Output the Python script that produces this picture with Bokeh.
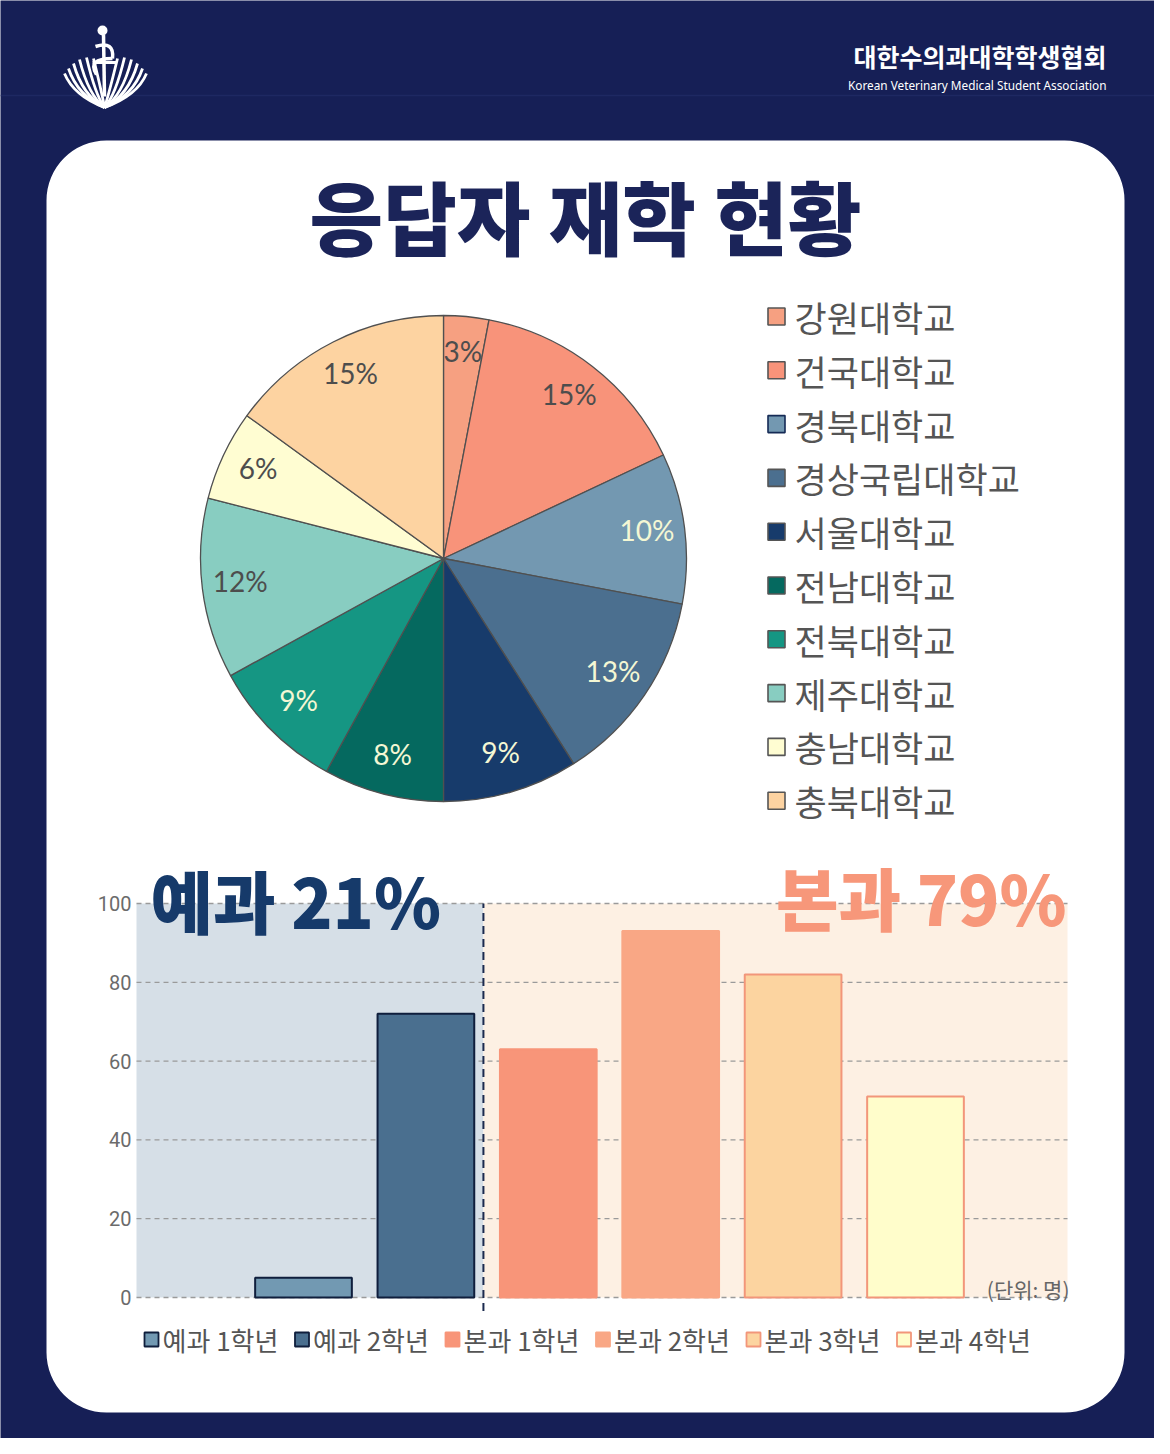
import numpy as np
from bokeh.plotting import figure
from bokeh.models import Range1d
from bokeh.core.properties import value
from bokeh.embed import file_html
from bokeh.resources import INLINE

# ---------------- data ----------------
schools = ["강원대학교", "건국대학교", "경북대학교", "경상국립대학교", "서울대학교",
           "전남대학교", "전북대학교", "제주대학교", "충남대학교", "충북대학교"]
shares = [3, 15, 10, 13, 9, 8, 9, 12, 6, 15]
pie_colors = ["#F6A081", "#F8937A", "#7398B1", "#4B6F8F", "#173B6B",
              "#05695F", "#159683", "#88CDC1", "#FFFDD2", "#FDD3A1"]
pie_label_colors = ["#4D4D4D", "#4D4D4D", "#F4F7D4", "#F4F7D4", "#F4F7D4",
                    "#F4F7D4", "#F4F7D4", "#4D4D4D", "#4D4D4D", "#4D4D4D"]

grades = ["예과 1학년", "예과 2학년", "본과 1학년", "본과 2학년", "본과 3학년", "본과 4학년"]
counts = [5, 72, 63, 93, 82, 51]
bar_fill = ["#7299B2", "#4A6F8F", "#F89579", "#F9A785", "#FCD4A0", "#FFFDCB"]
bar_line = ["#0F1E3C", "#0F1E3C", "#F89579", "#F9A785", "#F2967A", "#F2967A"]
y_ticks = [0, 20, 40, 60, 80, 100]

NAVY = "#161F56"
TITLE_NAVY = "#1B2459"
KR = "'Noto Sans CJK KR', sans-serif"
KR_HEAVY = "'Noto Sans CJK KR Black', 'Noto Sans CJK KR', sans-serif"

W, H = 1154, 1438


def Y(sy):
    # picture y (pixels, downwards) -> data y (upwards)
    return H - sy


p = figure(width=W, height=H, x_range=Range1d(0, W), y_range=Range1d(0, H),
           output_backend="svg", toolbar_location=None, min_border=0,
           background_fill_color=NAVY, border_fill_color=NAVY, outline_line_color=None)
p.axis.visible = False
p.grid.visible = False

# bar chart scales (value 0 at picture y 1297, 100 at y 903; bar index 0 at x 303)
px_per_val = (1297 - 903) / 100.0
bstep = 122.4
p.extra_y_ranges = {"by": Range1d((0 - Y(1297)) / px_per_val, (H - Y(1297)) / px_per_val)}
p.extra_x_ranges = {"bx": Range1d((0 - 303) / bstep, (W - 303) / bstep)}

# ---------------- header ----------------
p.segment(x0=[0], y0=[Y(95)], x1=[W], y1=[Y(95)], line_color="#1E2862", line_width=1.5)

# logo (open book + staff)
V = (104, 107)
left_tops = [(64, 73), (68, 68), (73, 63), (79, 59), (86, 57), (93, 58)]
for (tx, ty) in left_tops:
    p.quadratic(x0=[tx], y0=[Y(ty)], x1=[V[0]], y1=[Y(V[1])], cx=[tx + 9], cy=[Y(V[1] - 12)],
                line_color="white", line_width=2.8)
    mx = 2 * V[0] - tx + 2
    p.quadratic(x0=[mx], y0=[Y(ty)], x1=[V[0]], y1=[Y(V[1])], cx=[mx - 9], cy=[Y(V[1] - 12)],
                line_color="white", line_width=2.8)
p.segment(x0=[103], y0=[Y(34)], x1=[104], y1=[Y(96)], line_color="white", line_width=3.5)
p.circle(x=[102], y=[Y(30)], radius=5, radius_units="screen", fill_color="white", line_color=None)
p.quadratic(x0=[95], y0=[Y(46)], x1=[112], y1=[Y(58)], cx=[114], cy=[Y(40)],
            line_color="white", line_width=3.5)
p.quadratic(x0=[112], y0=[Y(58)], x1=[96], y1=[Y(74)], cx=[86], cy=[Y(58)],
            line_color="white", line_width=3.5)
p.segment(x0=[92], y0=[Y(62)], x1=[116], y1=[Y(62)], line_color="white", line_width=3)

p.text(x=[1106], y=[Y(55)], text=["대한수의과대학학생협회"], text_align="right",
       text_baseline="middle", text_font=value(KR), text_font_style="bold",
       text_font_size="25px", text_color="white")
p.text(x=[1106], y=[Y(84)], text=["Korean Veterinary Medical Student Association"],
       text_align="right", text_baseline="middle", text_font=value("Noto Sans"),
       text_font_size="11.8px", text_color="white")

# ---------------- card ----------------
p.quad(left=[46], right=[1124], top=[Y(140)], bottom=[Y(1412)], fill_color="white",
       line_color=None, border_radius=60)

p.text(x=[585], y=[Y(213)], text=["응답자 재학 현황"], text_align="center", text_baseline="middle",
       text_font=value(KR_HEAVY), text_font_style="bold", text_font_size="80px",
       text_color=TITLE_NAVY)

# ---------------- pie ----------------
cx, cy, R = 443, Y(558), 243
frac = np.array(shares, dtype=float) / sum(shares)
c1 = np.cumsum(frac)
c0 = c1 - frac
start = np.pi / 2 - 2 * np.pi * c0
end = np.pi / 2 - 2 * np.pi * c1
p.wedge(x=cx, y=cy, radius=R, radius_units="screen", start_angle=start, end_angle=end,
        direction="clock", fill_color=pie_colors, line_color="#505050", line_width=1.3)
mid = (start + end) / 2
LR = 205
p.text(x=cx + LR * np.cos(mid), y=cy + LR * np.sin(mid) + 3, text=[f"{s}%" for s in shares],
       text_align="center", text_baseline="middle", text_font=value("Lato"),
       text_font_size="28px", text_color=pie_label_colors)

# pie legend
leg_y = [Y(316 + 53.8 * i) for i in range(len(schools))]
leg_line = ["#555555"] * len(schools)
leg_line[2] = "#152A55"
p.rect(x=[776] * len(schools), y=leg_y, width=17, height=17, width_units="screen",
       height_units="screen", fill_color=pie_colors, line_color=leg_line, line_width=1.6)
p.text(x=[794] * len(schools), y=leg_y, text=schools, text_baseline="middle",
       text_font=value(KR), text_font_size="35px", text_color="#555555")

# ---------------- bar chart ----------------
region_left, divider, region_right = (136 - 303) / bstep, 1.47, (1067 - 303) / bstep
p.quad(left=[region_left], right=[divider], bottom=[0], top=[100], fill_color="#D6DFE7",
       line_color=None, x_range_name="bx", y_range_name="by")
p.quad(left=[divider], right=[region_right], bottom=[0], top=[100], fill_color="#FDF0E3",
       line_color=None, x_range_name="bx", y_range_name="by")
p.segment(x0=[region_left] * len(y_ticks), y0=y_ticks, x1=[region_right] * len(y_ticks), y1=y_ticks,
          line_color="#9A9A9A", line_width=1.3, line_dash="5 4",
          x_range_name="bx", y_range_name="by")
p.text(x=[(131 - 303) / bstep] * len(y_ticks), y=y_ticks, text=[str(t) for t in y_ticks],
       text_align="right", text_baseline="middle", text_font=value("Roboto"),
       text_font_size="20px", text_color="#6B6B6B", x_range_name="bx", y_range_name="by")

idx = list(range(len(counts)))
p.vbar(x=idx, top=counts, bottom=0, width=0.79, fill_color=bar_fill, line_color=bar_line,
       line_width=2, x_range_name="bx", y_range_name="by")

p.segment(x0=[divider], y0=[-3.4], x1=[divider], y1=[100], line_color="#1B2A4E", line_width=2,
          line_dash="8 5", x_range_name="bx", y_range_name="by")

pre = round(100 * sum(counts[:2]) / sum(counts))
main = 100 - pre
p.text(x=[150], y=[Y(899)], text=[f"예과 {pre}%"], text_baseline="middle",
       text_font=value(KR_HEAVY), text_font_style="bold", text_font_size="68px",
       text_color="#163A6A")
p.text(x=[1066], y=[Y(896)], text=[f"본과 {main}%"], text_align="right", text_baseline="middle",
       text_font=value(KR_HEAVY), text_font_style="bold", text_font_size="68px",
       text_color="#F7977A")
p.text(x=[1069], y=[Y(1288)], text=["(단위: 명)"], text_align="right", text_baseline="middle",
       text_font=value(KR), text_font_size="21px", text_color="#666666")

# bar legend
lstep = 150.5
lx = [151 + lstep * i for i in idx]
p.rect(x=lx, y=[Y(1339)] * len(idx), width=14, height=14, width_units="screen",
       height_units="screen", fill_color=bar_fill, line_color=bar_line, line_width=1.8)
p.text(x=[x + 11 for x in lx], y=[Y(1339)] * len(idx), text=grades, text_baseline="middle",
       text_font=value(KR), text_font_size="26px", text_color="#555555")

open("out.html", "w").write(file_html(p, INLINE))
